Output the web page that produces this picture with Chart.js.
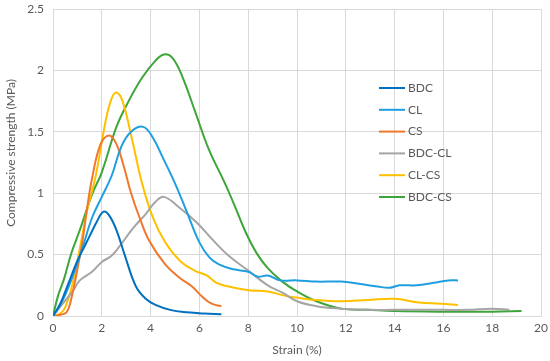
<!DOCTYPE html>
<html>
<head>
<meta charset="utf-8">
<script src="https://cdn.jsdelivr.net/npm/chart.js@4.4.0/dist/chart.umd.min.js"></script>
<style>
  html, body { margin: 0; padding: 0; background: #fff; }
  #wrap { width: 550px; height: 361px; position: relative; }
</style>
</head>
<body>
<div id="wrap"><canvas id="chart"></canvas></div>
<script>
// --- DATA ---
const seriesNames = ["BDC", "CL", "CS", "BDC-CL", "CL-CS", "BDC-CS"];
const seriesColors = ["#0070C0", "#1F9FE0", "#F0782D", "#A5A5A5", "#FFC000", "#3EA53A"];

const bdcX = [0, 0.3, 0.6, 1, 1.3, 1.5, 1.8, 2.07, 2.3, 2.6, 2.95, 3.4, 3.8, 4.2, 4.8, 5.5, 6.2, 6.9];
const bdcY = [0, 0.1, 0.25, 0.45, 0.57, 0.65, 0.77, 0.85, 0.82, 0.7, 0.49, 0.24, 0.14, 0.09, 0.05, 0.03, 0.02, 0.015];

const clX = [0, 0.4, 0.8, 1.2, 1.6, 2, 2.4, 2.8, 3.2, 3.7, 4.1, 4.5, 5, 5.5, 6, 6.4, 6.8, 7.4, 8, 8.4, 8.8, 9.3, 10, 10.8, 11.8, 12.6, 13.3, 13.8, 14.2, 14.9, 15.6, 16.2, 16.6];
const clY = [0, 0.13, 0.32, 0.55, 0.8, 0.97, 1.14, 1.38, 1.5, 1.54, 1.45, 1.29, 1.08, 0.84, 0.6, 0.48, 0.42, 0.38, 0.36, 0.32, 0.33, 0.29, 0.29, 0.28, 0.28, 0.26, 0.24, 0.23, 0.25, 0.25, 0.27, 0.29, 0.29];

const csX = [0, 0.3, 0.55, 0.7, 1.0, 1.2, 1.4, 1.6, 1.95, 2.3, 2.6, 2.9, 3.2, 3.55, 3.95, 4.6, 5.2, 5.7, 6.1, 6.5, 6.9];
const csY = [0, 0.01, 0.03, 0.1, 0.38, 0.6, 0.88, 1.12, 1.4, 1.47, 1.4, 1.22, 1.0, 0.8, 0.61, 0.42, 0.31, 0.24, 0.16, 0.1, 0.08];

const bdcClX = [0, 0.4, 0.8, 1.1, 1.6, 2, 2.4, 2.7, 3.3, 3.8, 4.2, 4.55, 5.2, 5.9, 6.5, 7.2, 8, 8.8, 9.4, 10, 10.8, 11.8, 12.9, 14, 15, 16, 17, 18, 18.7];
const bdcClY = [0, 0.1, 0.2, 0.29, 0.36, 0.44, 0.49, 0.56, 0.72, 0.83, 0.93, 0.97, 0.88, 0.76, 0.63, 0.49, 0.37, 0.25, 0.19, 0.12, 0.08, 0.06, 0.05, 0.05, 0.05, 0.05, 0.05, 0.06, 0.05];

const clCsX = [0, 0.3, 0.5, 0.8, 1.1, 1.4, 1.75, 2.15, 2.4, 2.6, 2.85, 3.25, 3.65, 4.1, 4.6, 5.2, 5.8, 6.3, 6.7, 7.2, 8, 8.8, 9.4, 10, 10.8, 11.8, 12.9, 14, 15, 15.9, 16.6];
const clCsY = [0, 0.02, 0.07, 0.26, 0.55, 0.86, 1.14, 1.58, 1.77, 1.82, 1.75, 1.43, 1.08, 0.8, 0.6, 0.45, 0.37, 0.33, 0.27, 0.24, 0.21, 0.2, 0.17, 0.15, 0.13, 0.12, 0.13, 0.14, 0.11, 0.1, 0.09];

const bdcCsX = [0, 0.2, 0.45, 0.75, 1.1, 1.6, 2, 2.6, 3.1, 3.65, 4.2, 4.55, 4.9, 5.3, 5.85, 6.4, 7, 7.4, 7.9, 8.35, 8.8, 9.4, 10, 10.8, 11.8, 12.9, 14, 16, 18, 19.2];
const bdcCsY = [0, 0.16, 0.3, 0.51, 0.7, 0.99, 1.17, 1.54, 1.75, 1.94, 2.08, 2.13, 2.1, 1.95, 1.65, 1.35, 1.1, 0.92, 0.68, 0.51, 0.39, 0.28, 0.2, 0.12, 0.06, 0.05, 0.04, 0.035, 0.035, 0.04];

const xTicks = [0, 2, 4, 6, 8, 10, 12, 14, 16, 18, 20];
const yTicks = [0, 0.5, 1, 1.5, 2, 2.5];

const allX = [bdcX, clX, csX, bdcClX, clCsX, bdcCsX];
const allY = [bdcY, clY, csY, bdcClY, clCsY, bdcCsY];

// --- CHART ---
const FONT = "Lato";
const TXT = "#595959";
const GRID = "#D9D9D9";
const Y_TITLE = "Compressive strength (MPa)";

function toPoints(xs, ys) {
  return xs.map((x, i) => ({ x: x, y: ys[i] }));
}

const datasets = seriesNames.map((name, i) => ({
  label: name,
  data: toPoints(allX[i], allY[i]),
  borderColor: seriesColors[i],
  backgroundColor: seriesColors[i],
  borderWidth: 2,
  pointRadius: 0,
  showLine: true,
  fill: false,
  tension: 0.4
}));

// legend drawn inside the plot + the y title, placed like the original
const extras = {
  id: "extras",
  afterDatasetsDraw(chart) {
    const ctx = chart.ctx;
    const area = chart.chartArea;
    const x0 = area.left + 326;
    const y0 = area.top + 79;
    ctx.save();
    ctx.font = "12px " + FONT;
    ctx.textBaseline = "middle";
    chart.data.datasets.forEach((ds, i) => {
      const y = y0 + i * 21.8;
      ctx.strokeStyle = ds.borderColor;
      ctx.lineWidth = 2;
      ctx.beginPath();
      ctx.moveTo(x0, y);
      ctx.lineTo(x0 + 26, y);
      ctx.stroke();
      ctx.fillStyle = TXT;
      ctx.fillText(ds.label, x0 + 29, y);
    });
    // rotated y title
    ctx.translate(11, 153);
    ctx.rotate(-Math.PI / 2);
    ctx.textAlign = "center";
    ctx.fillText(Y_TITLE, 0, 0);
    ctx.restore();
  }
};

new Chart(document.getElementById("chart"), {
  type: "scatter",
  data: { datasets: datasets },
  options: {
    responsive: true,
    maintainAspectRatio: false,
    animation: false,
    layout: { padding: { top: 9, right: 9, left: 0, bottom: 0 } },
    plugins: { legend: { display: false }, tooltip: { enabled: false } },
    scales: {
      x: {
        type: "linear",
        min: 0, max: 20,
        afterBuildTicks: (s) => { s.ticks = xTicks.map(v => ({ value: v })); },
        afterFit: (s) => { s.height = 45; s.paddingLeft = 0; s.paddingRight = 0; },
        grid: { color: GRID, lineWidth: 1, drawTicks: false },
        border: { color: GRID },
        ticks: { color: TXT, font: { family: FONT, size: 12 }, padding: 5, maxRotation: 0, callback: (v) => String(v) },
        title: { display: true, text: "Strain (%)", color: TXT, font: { family: FONT, size: 12 }, padding: { top: 3 } }
      },
      y: {
        type: "linear",
        min: 0, max: 2.5,
        afterBuildTicks: (s) => { s.ticks = yTicks.map(v => ({ value: v })); },
        afterFit: (s) => { s.width = 53; s.paddingTop = 0; s.paddingBottom = 0; },
        grid: { color: GRID, lineWidth: 1, drawTicks: false },
        border: { color: GRID },
        ticks: { color: TXT, font: { family: FONT, size: 12 }, padding: 9, callback: (v) => String(v) },
        title: { display: false }
      }
    }
  },
  plugins: [extras]
});
</script>
</body>
</html>
